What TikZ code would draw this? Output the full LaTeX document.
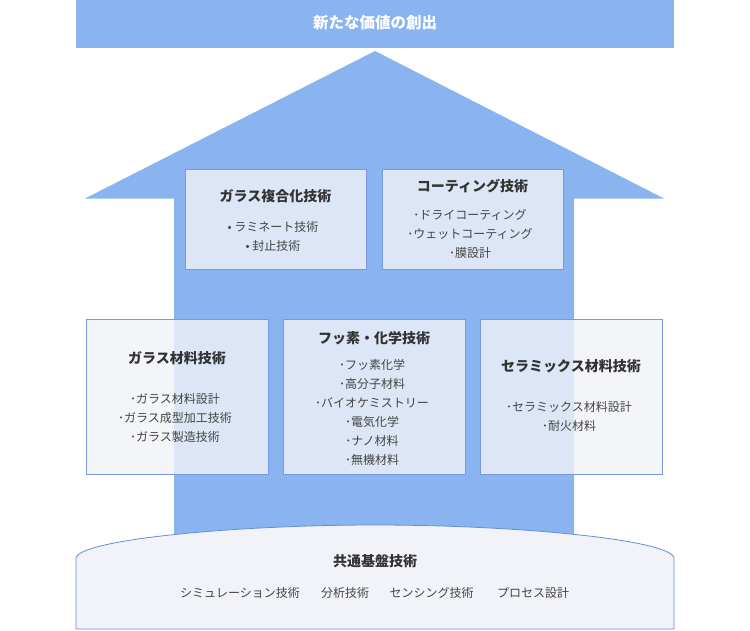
\documentclass[tikz,border=0pt]{standalone}
\usepackage{fontspec}
\setmainfont{Noto Sans CJK JP}
\definecolor{arrowblue}{RGB}{138,180,240}
\definecolor{boxfill}{RGB}{241,243,248}
\definecolor{boxline}{RGB}{122,152,222}
\definecolor{cylline}{RGB}{104,140,216}
\definecolor{titletext}{RGB}{51,51,51}
\definecolor{itemtext}{RGB}{68,68,68}
\tikzset{
  techbox/.style={draw=boxline, line width=0.8pt, fill=boxfill, fill opacity=0.8},
  boxtitle/.style={text=titletext, font=\bfseries\fontsize{14}{16}\selectfont, inner sep=0pt, anchor=center},
  boxitems/.style={text=itemtext, font=\fontsize{12}{19}\selectfont, align=center, inner sep=0pt, anchor=center},
}
\begin{document}
\begin{tikzpicture}[x=1pt,y=-1pt]
\useasboundingbox (0,0) rectangle (750,630);
% banner
\fill[arrowblue] (76,0) rectangle (674,48);
\node[text=white, font=\bfseries\fontsize{15.5}{17}\selectfont, inner sep=0pt] (banner) at (375,23) {新たな価値の創出};
% arrow
\fill[arrowblue] (375,51) -- (664,198.5) -- (574,198.5) -- (574,545) -- (174,545) -- (174,198.5) -- (85,198.5) -- cycle;
% top boxes
\draw[techbox] (185,169) rectangle (366,269);
\node[boxtitle] (t1) at (275.5,196) {ガラス複合化技術};
\node[boxitems] (i1) at (273,236.5) {• ラミネート技術\\• 封止技術};
\draw[techbox] (382,169) rectangle (563,269);
\node[boxtitle] (t2) at (472.5,186) {コーティング技術};
\node[boxitems] (i2) at (470,234) {･ドライコーティング\\･ウェットコーティング\\･膜設計};
% bottom boxes
\draw[techbox] (86,319) rectangle (268,474);
\node[boxtitle] (t3) at (177,358) {ガラス材料技術};
\node[boxitems] (i3) at (175,418) {･ガラス材料設計\\･ガラス成型加工技術\\･ガラス製造技術};
\draw[techbox] (283,319) rectangle (465,474);
\node[boxtitle] (t4) at (374,338) {フッ素・化学技術};
\node[boxitems] (i4) at (372,412) {･フッ素化学\\･高分子材料\\･バイオケミストリー\\･電気化学\\･ナノ材料\\･無機材料};
\draw[techbox] (480,319) rectangle (662,474);
\node[boxtitle] (t5) at (571,366) {セラミックス材料技術};
\node[boxitems] (i5) at (569,416.5) {･セラミックス材料設計\\･耐火材料};
% base cylinder
\draw[cylline, line width=0.8pt, fill=boxfill] (76,629) -- (76,558) .. controls (79,540) and (230,525) .. (375,525) .. controls (520,525) and (671,540) .. (674,558) -- (674,629) -- cycle;
\node[boxtitle] (t6) at (375,561) {共通基盤技術};
\node[boxitems] (b1) at (240,593) {シミュレーション技術};
\node[boxitems] (b2) at (345,593) {分析技術};
\node[boxitems] (b3) at (431.5,593) {センシング技術};
\node[boxitems] (b4) at (533,593) {プロセス設計};
\end{tikzpicture}
\end{document}
